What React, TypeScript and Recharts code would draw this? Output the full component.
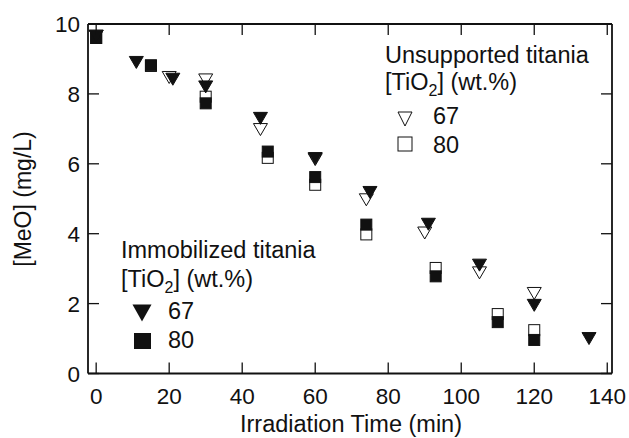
import React from 'react'
import { ScatterChart, Scatter, XAxis, YAxis } from 'recharts'

// irradiation time (min) and [MeO] (mg/L)
const TIME_IMM_67 = [0, 11, 21, 30, 45, 60, 75, 91, 105, 120, 135]
const MEO_IMM_67 = [9.65, 8.9, 8.42, 8.2, 7.3, 6.15, 5.18, 4.27, 3.1, 1.95, 1.0]
const TIME_IMM_80 = [0, 15, 30, 47, 60, 74, 93, 110, 120]
const MEO_IMM_80 = [9.6, 8.82, 7.73, 6.35, 5.62, 4.26, 2.78, 1.47, 0.96]
const TIME_UNS_67 = [0, 20, 30, 45, 60, 74, 90, 105, 120]
const MEO_UNS_67 = [9.65, 8.47, 8.4, 6.98, 6.12, 4.97, 4.02, 2.88, 2.29]
const TIME_UNS_80 = [0, 15, 30, 47, 60, 74, 93, 110, 120]
const MEO_UNS_80 = [9.6, 8.8, 7.92, 6.17, 5.4, 3.98, 3.02, 1.7, 1.24]

const X_TICKS = [0, 20, 40, 60, 80, 100, 120, 140]
const Y_TICKS = [0, 2, 4, 6, 8, 10]

const FONT = '"Liberation Sans", Arial, sans-serif'
const INK = '#111'

const toPoints = (ts: number[], ys: number[]) => ts.map((t, i) => ({ t, meo: ys[i] }))

const imm67 = toPoints(TIME_IMM_67, MEO_IMM_67)
const imm80 = toPoints(TIME_IMM_80, MEO_IMM_80)
const uns67 = toPoints(TIME_UNS_67, MEO_UNS_67)
const uns80 = toPoints(TIME_UNS_80, MEO_UNS_80)

const tri = (cx: number, cy: number, w: number, h: number) =>
  `${cx - w / 2},${cy - h / 2} ${cx + w / 2},${cy - h / 2} ${cx},${cy + h / 2}`

const Tri = (filled: boolean) => (p: any) => (
  <polygon
    points={tri(p.cx, p.cy, 14, 12)}
    fill={filled ? INK : '#fff'}
    stroke={INK}
    strokeWidth={1}
  />
)

const Sq = (filled: boolean) => (p: any) => (
  <rect
    x={p.cx - 5.5}
    y={p.cy - 5.5}
    width={11}
    height={11}
    fill={filled ? INK : '#fff'}
    stroke={INK}
    strokeWidth={1}
  />
)

const BottomTick = (p: any) => (
  <g>
    <line x1={p.x} x2={p.x} y1={p.y} y2={p.y - 11} stroke={INK} strokeWidth={1.3} />
    <text x={p.x} y={p.y + 30} textAnchor="middle" fontSize={22.5} fontFamily={FONT} fill={INK}>
      {p.payload.value}
    </text>
  </g>
)

const TopTick = (p: any) => (
  <line x1={p.x} x2={p.x} y1={p.y} y2={p.y + 11} stroke={INK} strokeWidth={1.3} />
)

const LeftTick = (p: any) => (
  <g>
    <line x1={p.x} x2={p.x + 11} y1={p.y} y2={p.y} stroke={INK} strokeWidth={1.3} />
    <text x={p.x - 8} y={p.y + 8} textAnchor="end" fontSize={22.5} fontFamily={FONT} fill={INK}>
      {p.payload.value}
    </text>
  </g>
)

const RightTick = (p: any) => (
  <line x1={p.x} x2={p.x - 11} y1={p.y} y2={p.y} stroke={INK} strokeWidth={1.3} />
)

const axisLine = { stroke: INK, strokeWidth: 1.8 }

function LegendText({ x, y, children }: { x: number; y: number; children: React.ReactNode }) {
  return (
    <text x={x} y={y} fontSize={23.5} fontFamily={FONT} fill={INK}>
      {children}
    </text>
  )
}

function TiO2({ x, y }: { x: number; y: number }) {
  return (
    <text x={x} y={y} fontSize={23.5} fontFamily={FONT} fill={INK}>
      [TiO<tspan fontSize={16} dy={6}>2</tspan>
      <tspan dy={-6}>] (wt.%)</tspan>
    </text>
  )
}

export default function App() {
  return (
    <div style={{ position: 'absolute', left: 0, top: 0, width: 629, height: 438, background: '#fff' }}>
      <ScatterChart width={629} height={438} margin={{ top: 23, right: 16, bottom: 14.5, left: 28 }}>
        <XAxis
          xAxisId="b"
          dataKey="t"
          type="number"
          domain={[-2.24, 141.3]}
          ticks={X_TICKS}
          orientation="bottom"
          height={50}
          tickSize={0}
          tickMargin={0}
          tickLine={false}
          axisLine={axisLine}
          tick={BottomTick}
          allowDataOverflow
        />
        <XAxis
          xAxisId="t"
          dataKey="t"
          type="number"
          domain={[-2.24, 141.3]}
          ticks={X_TICKS}
          orientation="top"
          height={1}
          tickSize={0}
          tickMargin={0}
          tickLine={false}
          axisLine={axisLine}
          tick={TopTick}
          allowDataOverflow
        />
        <YAxis
          yAxisId="l"
          dataKey="meo"
          type="number"
          domain={[0, 10]}
          ticks={Y_TICKS}
          width={60}
          tickSize={0}
          tickMargin={0}
          tickLine={false}
          axisLine={axisLine}
          tick={LeftTick}
          allowDataOverflow
        />
        <YAxis
          yAxisId="r"
          dataKey="meo"
          type="number"
          domain={[0, 10]}
          ticks={Y_TICKS}
          orientation="right"
          width={1}
          tickSize={0}
          tickMargin={0}
          tickLine={false}
          axisLine={axisLine}
          tick={RightTick}
          allowDataOverflow
        />
        <Scatter xAxisId="t" yAxisId="r" data={uns80} shape={Sq(false)} isAnimationActive={false} />
        <Scatter xAxisId="t" yAxisId="r" data={uns67} shape={Tri(false)} isAnimationActive={false} />
        <Scatter xAxisId="b" yAxisId="l" data={imm80} shape={Sq(true)} isAnimationActive={false} />
        <Scatter xAxisId="b" yAxisId="l" data={imm67} shape={Tri(true)} isAnimationActive={false} />
      </ScatterChart>
      <svg
        width={629}
        height={438}
        style={{ position: 'absolute', left: 0, top: 0, pointerEvents: 'none' }}
      >
        <text
          transform="translate(31,199) rotate(-90)"
          textAnchor="middle"
          fontSize={23}
          fontFamily={FONT}
          fill={INK}
        >
          [MeO] (mg/L)
        </text>
        <text x={351} y={432} textAnchor="middle" fontSize={23.5} fontFamily={FONT} fill={INK}>
          Irradiation Time (min)
        </text>

        <LegendText x={385} y={63}>Unsupported titania</LegendText>
        <TiO2 x={385} y={90} />
        <polygon points={tri(405, 119, 14, 14)} fill="#fff" stroke={INK} strokeWidth={1} />
        <LegendText x={433} y={124}>67</LegendText>
        <rect x={398} y={137} width={14} height={14} fill="#fff" stroke={INK} strokeWidth={1} />
        <LegendText x={433} y={153}>80</LegendText>

        <LegendText x={121} y={258}>Immobilized titania</LegendText>
        <TiO2 x={121} y={287} />
        <polygon points={tri(142, 313, 19, 17)} fill={INK} />
        <LegendText x={168} y={319}>67</LegendText>
        <rect x={134} y={333} width={17} height={16} fill={INK} />
        <LegendText x={168} y={348}>80</LegendText>
      </svg>
    </div>
  )
}
